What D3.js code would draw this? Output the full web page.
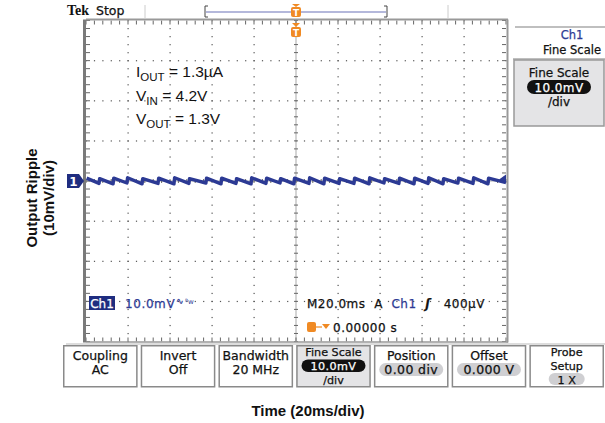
<!DOCTYPE html>
<html>
<head>
<meta charset="utf-8">
<script src="https://cdn.jsdelivr.net/npm/d3@7"></script>
<style>
  body { margin: 0; background: #fff; }
  svg { display: block; }
  .ui { font-family: "DejaVu Sans", sans-serif; stroke-width: 0.25; paint-order: stroke; }
</style>
</head>
<body>
<div id="chart"></div>
<script>
// Ripple sawtooth read from the screen: time of each recharge step (ms),
// voltage just after the step and just before the next one (mV)
const riseTimes = [-100, -93.8, -87.1, -80.5, -73.3, -65.7, -58.1, -51.0, -42.9, -35.7,
    -28.6, -21.4, -14.3, -7.6, -1.0, 6.2, 13.3, 20.5, 27.6, 34.8,
    41.9, 49.0, 56.2, 62.9, 70.0, 77.1, 84.3, 91.4];
const peakMv = [0.7, 0.6, 0.7, 0.8, 0.6, 0.7, 0.8, 0.6, 0.7, 0.7,
    0.6, 0.8, 0.7, 0.6, 0.7, 0.8, 0.7, 0.6, 0.7, 0.8,
    0.6, 0.7, 0.7, 0.8, 0.6, 0.7, 0.8, 0.7];
const valleyMv = [-0.6, -0.7, -0.5, -0.7, -0.6, -0.7, -0.6, -0.5, -0.7, -0.6,
    -0.7, -0.6, -0.5, -0.7, -0.6, -0.7, -0.6, -0.6, -0.7, -0.5,
    -0.6, -0.7, -0.6, -0.7, -0.5, -0.6, -0.7, -0.4];

const timeDomain = [-100, 100];   // 10 div x 20ms
const voltDomain = [-40, 40];     // 8 div x 10mV

const menuLabels = [
    { top: "Coupling", bottom: "AC", pill: null },
    { top: "Invert", bottom: "Off", pill: null },
    { top: "Bandwidth", bottom: "20 MHz", pill: null },
    { top: "Fine Scale", bottom: "10.0mV", pill: "dark", extra: "/div" },
    { top: "Position", bottom: "0.00 div", pill: "light" },
    { top: "Offset", bottom: "0.000 V", pill: "light" },
    { top: "Probe", bottom: "Setup", pill: null, extra: "1 X" }
];

const width = 605, height = 423;
const plot = { left: 86, right: 506, top: 20.5, bottom: 341.5 };
const blue = "#2c3a94";
const orange = "#f08a24";

const x = d3.scaleLinear().domain(timeDomain).range([plot.left, plot.right]);
const y = d3.scaleLinear().domain(voltDomain).range([plot.bottom, plot.top]);

const svg = d3.select("#chart").append("svg")
    .attr("width", width)
    .attr("height", height);

// helper for scope UI text
function uiText(px, py, str, size, fill, anchor) {
    return svg.append("text").attr("class", "ui")
        .attr("x", px).attr("y", py)
        .attr("text-anchor", anchor || "start")
        .attr("font-size", size)
        .attr("fill", fill).attr("stroke", fill)
        .text(str);
}

// graticule dots on the major lines
const grid = svg.append("g").attr("fill", "#555");
const minorT = d3.range(-100, 100.01, 4);
const minorV = d3.range(-40, 40.01, 2);
d3.range(-80, 81, 20).forEach(t => {
    if (t === 0) return;
    minorV.forEach(v => grid.append("rect")
        .attr("x", x(t) - 0.5).attr("y", y(v) - 0.5).attr("width", 1.2).attr("height", 1.2));
});
d3.range(-30, 31, 10).forEach(v => {
    if (v === 0) return;
    minorT.forEach(t => grid.append("rect")
        .attr("x", x(t) - 0.5).attr("y", y(v) - 0.5).attr("width", 1.2).attr("height", 1.2));
});

// center cross with minor ticks
const ticks = svg.append("g").attr("stroke", "#666").attr("stroke-width", 1);
minorV.forEach(v => {
    ticks.append("line").attr("x1", x(0) - 2).attr("x2", x(0) + 2).attr("y1", y(v)).attr("y2", y(v));
    ticks.append("line").attr("x1", plot.left).attr("x2", plot.left + 4).attr("y1", y(v)).attr("y2", y(v));
    ticks.append("line").attr("x1", plot.right - 4).attr("x2", plot.right).attr("y1", y(v)).attr("y2", y(v));
});
minorT.forEach(t => {
    ticks.append("line").attr("x1", x(t)).attr("x2", x(t)).attr("y1", y(0) - 2).attr("y2", y(0) + 2);
    ticks.append("line").attr("x1", x(t)).attr("x2", x(t)).attr("y1", plot.top).attr("y2", plot.top + 4);
    ticks.append("line").attr("x1", x(t)).attr("x2", x(t)).attr("y1", plot.bottom - 4).attr("y2", plot.bottom);
});
grid.append("rect").attr("x", x(0) - 0.5).attr("y", plot.top).attr("width", 1).attr("height", plot.bottom - plot.top).attr("fill", "#aaa");
grid.append("rect").attr("x", plot.left).attr("y", y(0) - 0.5).attr("width", plot.right - plot.left).attr("height", 1).attr("fill", "#aaa");

// frame
svg.append("line").attr("x1", plot.left - 1.5).attr("x2", plot.left - 1.5)
    .attr("y1", plot.top - 1).attr("y2", plot.bottom + 1).attr("stroke", "#7a7a7a").attr("stroke-width", 3);
svg.append("line").attr("x1", plot.left).attr("x2", plot.right + 2)
    .attr("y1", plot.top - 1).attr("y2", plot.top - 1).attr("stroke", "#999").attr("stroke-width", 2);
svg.append("line").attr("x1", plot.right + 1.5).attr("x2", plot.right + 1.5)
    .attr("y1", plot.top - 1).attr("y2", plot.bottom + 1).attr("stroke", "#999").attr("stroke-width", 2);
svg.append("line").attr("x1", plot.left).attr("x2", plot.right + 2)
    .attr("y1", plot.bottom + 0.5).attr("y2", plot.bottom + 0.5).attr("stroke", "#999").attr("stroke-width", 1.5);
svg.append("line").attr("x1", 66).attr("x2", 605)
    .attr("y1", 344).attr("y2", 344).attr("stroke", "#bbb").attr("stroke-width", 1);

// waveform
const points = [];
riseTimes.forEach((t, i) => {
    const next = i + 1 < riseTimes.length ? riseTimes[i + 1] : timeDomain[1];
    points.push([t + 0.3, peakMv[i]]);
    points.push([next, valleyMv[i]]);
});
const line = d3.line().x(d => x(d[0])).y(d => y(d[1]));
svg.append("path")
    .datum(points)
    .attr("fill", "none")
    .attr("stroke", blue)
    .attr("stroke-width", 3.4)
    .attr("stroke-linejoin", "round")
    .attr("d", line);

// trigger level arrow on the right edge
svg.append("path")
    .attr("d", `M${plot.right - 7},${y(0.4)} L${plot.right},${y(0.4) - 5} L${plot.right},${y(0.4) + 3} Z`)
    .attr("fill", blue);

// channel 1 ground marker
const gm = svg.append("g").attr("transform", `translate(67,${y(0)})`);
gm.append("path").attr("d", "M0,-7 H12 L17,0 L12,7 H0 Z").attr("fill", "#1f2d80");
gm.append("text").attr("x", 6.5).attr("y", 4.5).attr("text-anchor", "middle")
    .attr("font-family", "DejaVu Sans, sans-serif").attr("font-size", 12).attr("font-weight", "bold")
    .attr("fill", "#fff").text("1");

// header
svg.append("text").attr("x", 67).attr("y", 15).attr("font-family", "Liberation Serif, serif")
    .attr("font-size", 14).attr("font-weight", "bold").attr("fill", "#111").text("Tek");
uiText(96, 15, "Stop", 12.5, "#111");
svg.append("line").attr("x1", 145).attr("x2", 145).attr("y1", 5).attr("y2", 18).attr("stroke", "#ccc");
svg.append("line").attr("x1", 448).attr("x2", 448).attr("y1", 5).attr("y2", 18).attr("stroke", "#ccc");
svg.append("line").attr("x1", 206).attr("x2", 386).attr("y1", 12).attr("y2", 12).attr("stroke", "#6a72b8").attr("stroke-width", 1.2);
svg.append("path").attr("d", "M208,6 H205 V17 H208").attr("fill", "none").attr("stroke", "#444");
svg.append("path").attr("d", "M384,6 H387 V17 H384").attr("fill", "none").attr("stroke", "#444");

function trigMarker(cx, cy, tail) {
    const g = svg.append("g").attr("transform", `translate(${cx},${cy})`);
    if (tail) g.append("path").attr("d", "M-4,-9 H4 L0,-5 Z").attr("fill", orange);
    g.append("rect").attr("x", -5).attr("y", -5).attr("width", 10).attr("height", 10).attr("rx", 2).attr("fill", orange);
    g.append("text").attr("y", 4).attr("text-anchor", "middle").attr("font-family", "DejaVu Sans, sans-serif")
        .attr("font-size", 9).attr("font-weight", "bold").attr("fill", "#fff").text("T");
    return g;
}
trigMarker(x(0), 12, false);
svg.append("path").attr("d", `M${x(0) - 4},4 H${x(0) + 4} L${x(0)},7 Z`).attr("fill", orange);
trigMarker(x(0), 32, true);

// annotations
const ann = svg.append("g").attr("font-family", "Liberation Sans, Arial, sans-serif").attr("fill", "#111");
const annLines = [["I", "OUT", " = 1.3µA", 77], ["V", "IN", " = 4.2V", 101], ["V", "OUT", " = 1.3V", 124]];
annLines.forEach(a => {
    const t = ann.append("text").attr("x", 136).attr("y", a[3]).attr("font-size", 15.5);
    t.append("tspan").text(a[0]);
    t.append("tspan").attr("font-size", 11.5).attr("dy", 4).text(a[1]);
    t.append("tspan").attr("dy", -4).text(a[2]);
});

// readouts
svg.append("rect").attr("x", 89).attr("y", 296).attr("width", 26).attr("height", 14).attr("fill", "#1f2d80");
uiText(102, 307.5, "Ch1", 12, "#fff", "middle");
uiText(125, 307.5, "10.0mV", 12, blue).attr("letter-spacing", 0.6);
uiText(176, 304, "∿", 9, blue);
svg.append("text").attr("x", 185).attr("y", 304).attr("font-family", "DejaVu Sans, sans-serif").attr("font-size", 7)
    .attr("fill", blue).text("ᴮw");

const ro = uiText(307, 307.5, "", 12, "#111").attr("letter-spacing", 0.5).attr("xml:space", "preserve");
ro.append("tspan").text("M20.0ms  A  ");
ro.append("tspan").attr("fill", blue).attr("stroke", blue).text("Ch1");
ro.append("tspan").text("  ");
ro.append("tspan").attr("font-style", "italic").attr("font-weight", "bold").text("ʃ");
ro.append("tspan").text("   400µV");

svg.append("rect").attr("x", 307).attr("y", 322).attr("width", 9).attr("height", 10).attr("rx", 2).attr("fill", orange);
svg.append("line").attr("x1", 316).attr("x2", 322).attr("y1", 327).attr("y2", 327).attr("stroke", orange).attr("stroke-width", 1.2);
svg.append("path").attr("d", "M322,324 H330 L326,329 Z").attr("fill", orange);
uiText(333, 332, "0.00000 s", 12, "#111").attr("letter-spacing", 0.5);

// right side menu panel
svg.append("line").attr("x1", 515).attr("x2", 605).attr("y1", 27).attr("y2", 27).attr("stroke", "#aaa").attr("stroke-width", 1.5);
uiText(572, 39, "Ch1", 11.5, blue, "middle");
uiText(572, 54, "Fine Scale", 11.5, "#111", "middle");
svg.append("line").attr("x1", 513).attr("x2", 605).attr("y1", 59).attr("y2", 59).attr("stroke", "#aaa").attr("stroke-width", 1.5);
svg.append("rect").attr("x", 514).attr("y", 60).attr("width", 90).attr("height", 66)
    .attr("fill", "#e4e4e6").attr("stroke", "#999").attr("stroke-width", 1.5);
uiText(559, 77, "Fine Scale", 12, "#111", "middle");
svg.append("rect").attr("x", 527).attr("y", 80).attr("width", 64).attr("height", 14).attr("rx", 7).attr("fill", "#111");
uiText(559, 91.5, "10.0mV", 12, "#fff", "middle").attr("letter-spacing", 0.4);
uiText(559, 106, "/div", 12, "#111", "middle");

// bottom menu buttons
const btnX = d3.scaleBand().domain(d3.range(menuLabels.length)).range([63, 604]).paddingInner(0.04);
const btns = svg.selectAll("g.btn").data(menuLabels).enter().append("g")
    .attr("class", "btn")
    .attr("transform", (d, i) => `translate(${btnX(i)},345)`);
btns.append("rect")
    .attr("x", 0.75).attr("y", 0.75)
    .attr("width", btnX.bandwidth() - 1.5).attr("height", 41)
    .attr("fill", d => d.pill === "dark" ? "#e4e4e6" : "#fff")
    .attr("stroke", "#8a8a8a").attr("stroke-width", 1.5);
const cx = btnX.bandwidth() / 2;
// three-line buttons use a smaller font so the lines do not collide
const tight = d => !!d.extra;
function btnText(sel, yFn, txt, fillFn) {
    return sel.append("text").attr("class", "ui")
        .attr("x", cx).attr("y", yFn).attr("text-anchor", "middle")
        .attr("font-size", d => tight(d) ? 11.2 : 12.5)
        .attr("fill", fillFn).attr("stroke", fillFn)
        .text(txt);
}
btnText(btns, d => tight(d) ? 11 : 15, d => d.top, "#111");
btns.filter(d => d.pill).append("rect")
    .attr("x", cx - 32).attr("y", d => d.pill === "dark" ? 14.5 : 18)
    .attr("width", 64).attr("height", d => d.pill === "dark" ? 12.5 : 13).attr("rx", 6.5)
    .attr("fill", d => d.pill === "dark" ? "#111" : "#cfcfd2");
btnText(btns, d => d.pill === "dark" ? 24.8 : (tight(d) ? 24.5 : 28.5), d => d.bottom,
    d => d.pill === "dark" ? "#fff" : "#111")
    .attr("letter-spacing", d => d.pill ? 0.4 : 0);
btns.filter(d => d.extra && !d.pill).append("rect")
    .attr("x", cx - 18).attr("y", 28).attr("width", 36).attr("height", 12).attr("rx", 6).attr("fill", "#cfcfd2");
btnText(btns.filter(d => d.extra), 38.5, d => d.extra, "#111");

// axis titles
const axisFont = "Liberation Sans, Arial, sans-serif";
svg.append("text").attr("transform", "translate(37,198) rotate(-90)").attr("text-anchor", "middle")
    .attr("font-family", axisFont).attr("font-size", 15).attr("font-weight", "bold").attr("fill", "#111")
    .text("Output Ripple");
svg.append("text").attr("transform", "translate(54,198) rotate(-90)").attr("text-anchor", "middle")
    .attr("font-family", axisFont).attr("font-size", 15).attr("font-weight", "bold").attr("fill", "#111")
    .text("(10mV/div)");
svg.append("text").attr("x", 308).attr("y", 416).attr("text-anchor", "middle")
    .attr("font-family", axisFont).attr("font-size", 15).attr("font-weight", "bold").attr("fill", "#111")
    .text("Time (20ms/div)");
</script>
</body>
</html>
